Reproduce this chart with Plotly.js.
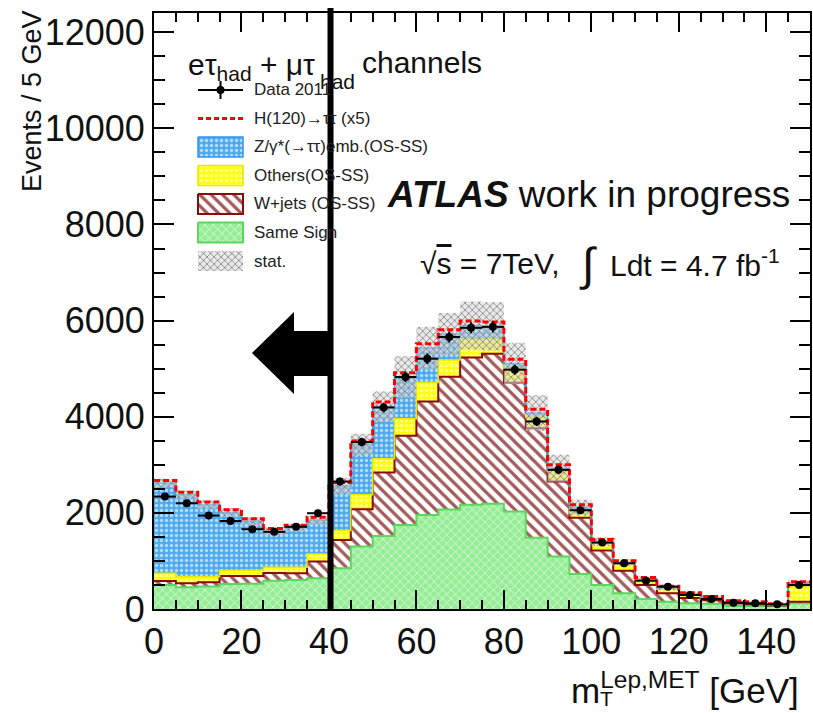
<!DOCTYPE html>
<html>
<head>
<meta charset="utf-8">
<script src="https://cdn.plot.ly/plotly-3.0.1.min.js"></script>
<style>
  html, body { margin: 0; padding: 0; background: #ffffff; }
  #chart { width: 813px; height: 713px; }
</style>
</head>
<body>
<div id="chart"></div>
<script>
// Transverse mass of lepton + MET, 5 GeV bins (last bin holds the overflow)
const binEdges = [0, 5, 10, 15, 20, 25, 30, 35, 40, 45, 50, 55, 60, 65, 70, 75,
                  80, 85, 90, 95, 100, 105, 110, 115, 120, 125, 130, 135, 140, 145, 150];

// Background components, stacked bottom to top
const sameSign = [500, 452, 470, 520, 525, 590, 604, 639, 847, 1298, 1521, 1750, 1958, 2070, 2170,
                  2190, 2027, 1480, 1090, 729, 500, 326, 208, 153, 118, 110, 62, 62, 62, 118];
const wJets    = [83, 83, 86, 167, 162, 160, 139, 347, 590, 778, 1319, 1854, 2360, 2760, 3060,
                  3120, 2680, 2280, 1562, 1170, 715, 472, 292, 173, 110, 70, 50, 35, 12, 35];
const others   = [160, 138, 117, 115, 120, 118, 125, 160, 195, 299, 285, 354, 397, 350, 380,
                  308, 300, 230, 208, 100, 153, 139, 104, 84, 60, 40, 30, 25, 12, 312];
const zTauTau  = [1877, 1702, 1497, 1208, 1018, 752, 822, 704, 928, 1041, 1090, 868, 715, 540, 290,
                  262, 103, 86, 70, 111, 35, 28, 14, 34, 24, 16, 11, 10, 4, 70];

// Signal H(120) -> tautau scaled by 5, drawn on top of the stack
const higgsX5  = [55, 55, 55, 55, 55, 55, 55, 60, 70, 80, 90, 90, 90, 90, 90,
                  90, 85, 80, 70, 60, 45, 40, 35, 30, 25, 25, 20, 20, 20, 30];

// Statistical uncertainty on the total background
const statErr  = [90, 90, 85, 85, 80, 80, 80, 90, 170, 230, 310, 430, 440, 440, 500,
                  500, 430, 370, 280, 170, 90, 70, 60, 50, 40, 35, 30, 30, 30, 60];

// Data 2011
const dataCounts = [2340, 2200, 1944, 1830, 1660, 1605, 1710, 1993, 2652, 3472, 4193, 4826, 5208, 5660, 5850,
                    5870, 4979, 3902, 2895, 2055, 1382, 951, 590, 465, 292, 208, 132, 118, 97, 500];
const dataErr    = [70, 70, 65, 65, 60, 60, 60, 65, 80, 90, 100, 105, 110, 115, 115,
                    115, 105, 95, 85, 70, 55, 45, 40, 35, 30, 25, 20, 20, 20, 35];

// Axis ticks
const xTickVals = [0, 20, 40, 60, 80, 100, 120, 140];
const yTickVals = [0, 2000, 4000, 6000, 8000, 10000, 12000];
const xRange = [0, 150];
const yRange = [0, 12400];

// ---- derived series ----
const centers = binEdges.slice(0, -1).map((e, i) => (e + binEdges[i + 1]) / 2);
const halfWidth = (binEdges[1] - binEdges[0]) / 2;
const cum = (...arrs) => arrs[0].map((_, i) => arrs.reduce((s, a) => s + a[i], 0));
const stepY = arr => arr.concat([arr[arr.length - 1]]);

const topSS  = sameSign.slice();
const topW   = cum(sameSign, wJets);
const topOth = cum(sameSign, wJets, others);
const topZ   = cum(sameSign, wJets, others, zTauTau);
const topSig = cum(topZ, higgsX5);
const bandLo = topZ.map((v, i) => v - statErr[i]);
const bandHi = topZ.map((v, i) => v + statErr[i]);

// ---- styles ----
const ST = {
  ss:   { line: '#5cd65c', lw: 2, bg: '#97ed97',
          pattern: { shape: 'x', bgcolor: '#97ed97', fgcolor: '#e4ffe4', size: 6, solidity: 0.22 } },
  w:    { line: '#8b0a0a', lw: 2, bg: '#ffffff',
          pattern: { shape: '\\', bgcolor: '#ffffff', fgcolor: '#a25a5a', size: 8, solidity: 0.4 } },
  oth:  { line: '#e8e800', lw: 1.5, bg: '#ffff10',
          pattern: { shape: '.', bgcolor: '#ffff10', fgcolor: '#ffffa8', size: 5, solidity: 0.3 } },
  z:    { line: '#2f95f0', lw: 1.5, bg: '#4eaaf0',
          pattern: { shape: '.', bgcolor: '#4eaaf0', fgcolor: '#b3dcfc', size: 5, solidity: 0.35 } },
  stat: { line: 'rgba(0,0,0,0)', lw: 0, bg: 'rgba(215,215,215,0.55)',
          pattern: { shape: 'x', bgcolor: 'rgba(215,215,215,0.55)', fgcolor: '#858585', size: 5, solidity: 0.3 } },
  sig:  { line: '#ff0000', lw: 3, dash: '6px,3px' }
};

function stepTrace(y, st, fill) {
  return {
    type: 'scatter', x: binEdges, y: stepY(y), mode: 'lines',
    line: { shape: 'hv', color: st.line, width: st.lw },
    fill: fill, fillcolor: st.bg, fillpattern: st.pattern,
    hoverinfo: 'skip', showlegend: false
  };
}

const traces = [
  stepTrace(topSS, ST.ss, 'tozeroy'),
  stepTrace(topW, ST.w, 'tonexty'),
  stepTrace(topOth, ST.oth, 'tonexty'),
  stepTrace(topZ, ST.z, 'tonexty'),
  // stat band: lower edge, then upper edge filled down to it
  { type: 'scatter', x: binEdges, y: stepY(bandLo), mode: 'lines',
    line: { shape: 'hv', width: 0, color: 'rgba(0,0,0,0)' }, hoverinfo: 'skip', showlegend: false },
  { type: 'scatter', x: binEdges, y: stepY(bandHi), mode: 'lines',
    line: { shape: 'hv', width: 0, color: 'rgba(0,0,0,0)' },
    fill: 'tonexty', fillcolor: ST.stat.bg, fillpattern: ST.stat.pattern,
    hoverinfo: 'skip', showlegend: false },
  // signal on top of the stack
  { type: 'scatter', x: binEdges, y: stepY(topSig), mode: 'lines',
    line: { shape: 'hv', color: ST.sig.line, width: ST.sig.lw, dash: ST.sig.dash },
    hoverinfo: 'skip', showlegend: false },
  // data points
  { type: 'scatter', x: centers, y: dataCounts, mode: 'markers',
    marker: { color: '#000000', size: 8 },
    error_x: { type: 'constant', value: halfWidth, thickness: 2, width: 0, color: '#000000' },
    error_y: { type: 'data', array: dataErr, thickness: 2, width: 0, color: '#000000' },
    hoverinfo: 'skip', showlegend: false }
];

// ---- page geometry (pixels) ----
const W = 813, H = 713;
const M = { l: 154, r: 3, t: 13, b: 104 };
const plotW = W - M.l - M.r, plotH = H - M.t - M.b;
const pxX = p => (p - M.l) / plotW;          // pixel -> paper x
const pxY = p => (H - M.b - p) / plotH;      // pixel -> paper y
const pxDX = p => xRange[0] + pxX(p) * (xRange[1] - xRange[0]);   // pixel -> axis x
const pxDY = p => yRange[0] + pxY(p) * (yRange[1] - yRange[0]);   // pixel -> axis y

// ---- hand-drawn legend ----
const LEG = { x0: 198, x1: 243, y0: 90, dy: 28.5, boxH: 20, textX: 252, font: 17 };
const legendItems = [
  { label: 'Data 2011', kind: 'data' },
  { label: 'H(120)→ττ (x5)', kind: 'sig' },
  { label: 'Z/γ*(→ττ)emb.(OS-SS)', kind: 'box', st: ST.z },
  { label: 'Others(OS-SS)', kind: 'box', st: ST.oth },
  { label: 'W+jets (OS-SS)', kind: 'box', st: ST.w },
  { label: 'Same Sign', kind: 'box', st: ST.ss },
  { label: 'stat.', kind: 'box', st: ST.stat }
];

const FONT = 'Liberation Sans, Arial, Helvetica, sans-serif';
const annotations = [];
legendItems.forEach((it, i) => {
  const yc = LEG.y0 + i * LEG.dy;
  const xa = pxDX(LEG.x0), xb = pxDX(LEG.x1), xm = (xa + xb) / 2;
  if (it.kind === 'data') {
    traces.push({ type: 'scatter', x: [xa, xb], y: [pxDY(yc), pxDY(yc)], mode: 'lines',
                  line: { color: '#000', width: 2 }, hoverinfo: 'skip', showlegend: false });
    traces.push({ type: 'scatter', x: [xm], y: [pxDY(yc)], mode: 'markers',
                  marker: { color: '#000', size: 8 },
                  error_y: { type: 'constant', value: pxDY(yc - 9) - pxDY(yc), thickness: 2, width: 0, color: '#000' },
                  hoverinfo: 'skip', showlegend: false });
  } else if (it.kind === 'sig') {
    traces.push({ type: 'scatter', x: [xa, xb], y: [pxDY(yc), pxDY(yc)], mode: 'lines',
                  line: { color: ST.sig.line, width: ST.sig.lw, dash: '5px,3px' }, hoverinfo: 'skip', showlegend: false });
  } else {
    const h = LEG.boxH / 2;
    const ya = pxDY(yc - h), yb = pxDY(yc + h);
    traces.push({ type: 'scatter', x: [xa, xb, xb, xa, xa], y: [ya, ya, yb, yb, ya], mode: 'lines',
                  line: { color: it.st.line, width: it.st.lw }, fill: 'toself',
                  fillcolor: it.st.bg, fillpattern: it.st.pattern, hoverinfo: 'skip', showlegend: false });
  }
  annotations.push({ xref: 'paper', yref: 'paper', x: pxX(LEG.textX), y: pxY(yc), xanchor: 'left', yanchor: 'middle',
                     text: it.label, showarrow: false,
                     font: { family: FONT, size: LEG.font, color: '#222' } });
});

function label(text, px, py, size, xanchor, extra) {
  return Object.assign({ xref: 'paper', yref: 'paper', x: pxX(px), y: pxY(py), xanchor: xanchor, yanchor: 'middle',
                         text: text, showarrow: false, font: { family: FONT, size: size, color: '#111' } }, extra || {});
}

annotations.push(
  label('eτ<sub>had</sub> + μτ', 186, 66, 30, 'left'),
  label('had', 318, 82, 21, 'left'),
  label('channels', 360, 62, 30, 'left'),
  label('<b><i>ATLAS</i></b> work in progress', 385, 194, 37, 'left'),
  label('√<span style="text-decoration:overline">s</span> = 7TeV,', 418, 263, 30, 'left'),
  label('∫', 588, 264, 46, 'center'),
  label('Ldt = 4.7 fb<sup>-1</sup>', 608, 263, 30, 'left'),
  label('Events / 5 GeV', 32, 101, 27, 'center', { textangle: -90 }),
  label('m<sup>Lep,MET</sup> [GeV]', 801, 688, 35, 'right'),
  label('T', 598, 698, 21, 'left')
);

// ---- cut marker: vertical line at the cut and a left-pointing arrow ----
const cutPx = 330.5;
const arrowPts = [[252, 353], [294, 312], [294, 331], [cutPx, 331], [cutPx, 376], [294, 376], [294, 394]];
const arrowPath = 'M' + arrowPts.map(p => pxX(p[0]).toFixed(4) + ',' + pxY(p[1]).toFixed(4)).join('L') + 'Z';
const shapes = [
  { type: 'line', xref: 'paper', yref: 'paper', x0: pxX(cutPx), x1: pxX(cutPx), y0: 0, y1: pxY(8),
    line: { color: '#000', width: 6 } },
  { type: 'path', xref: 'paper', yref: 'paper', path: arrowPath, fillcolor: '#000', line: { color: '#000', width: 0 } }
];

const axisCommon = {
  showline: true, linecolor: '#000', linewidth: 2, mirror: 'ticks',
  ticks: 'inside', tickcolor: '#000', tickwidth: 2, showgrid: false, zeroline: false,
  tickfont: { family: FONT, size: 36, color: '#111' },
  tickformat: 'd', fixedrange: true, layer: 'above traces'
};

const layout = {
  width: W, height: H,
  margin: M,
  paper_bgcolor: '#ffffff', plot_bgcolor: '#ffffff',
  showlegend: false,
  xaxis: Object.assign({}, axisCommon, {
    range: xRange, tickvals: xTickVals, ticklen: 19,
    minor: { dtick: 5, ticklen: 9, ticks: 'inside', tickcolor: '#000', tickwidth: 2 }
  }),
  yaxis: Object.assign({}, axisCommon, {
    range: yRange, tickvals: yTickVals, ticklen: 20,
    minor: { dtick: 500, ticklen: 11, ticks: 'inside', tickcolor: '#000', tickwidth: 2 }
  }),
  annotations: annotations,
  shapes: shapes
};

Plotly.newPlot('chart', traces, layout, { staticPlot: true, displayModeBar: false });
</script>
</body>
</html>
